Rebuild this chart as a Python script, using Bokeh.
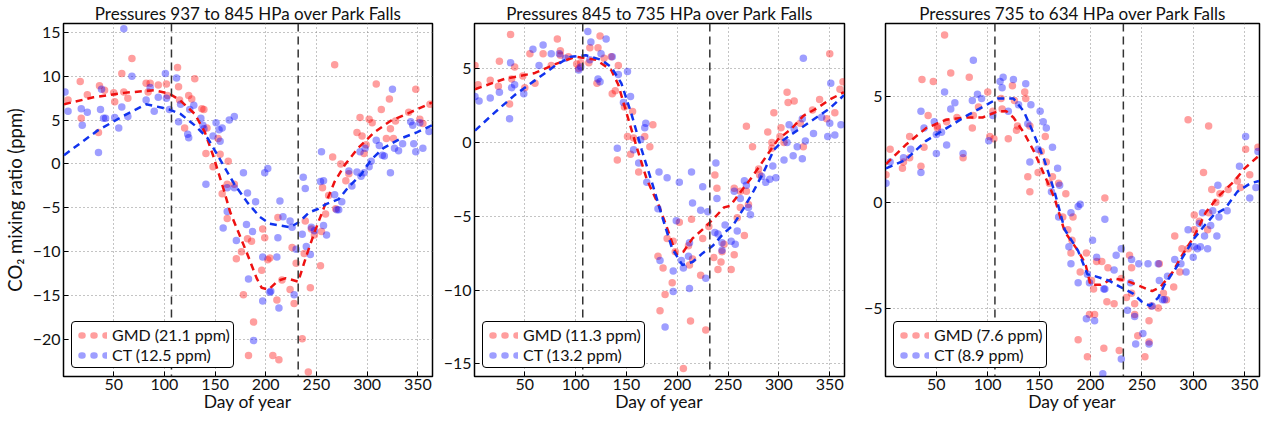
from bokeh.plotting import figure
from bokeh.models import (Range1d, FixedTicker, Span, Legend, LegendItem,
                          CustomJSTickFormatter)
from bokeh.layouts import row
from bokeh.embed import file_html
from bokeh.resources import INLINE

# ---------------- data ----------------
TITLES = ["Pressures 937 to 845 HPa over Park Falls",
          "Pressures 845 to 735 HPa over Park Falls",
          "Pressures 735 to 634 HPa over Park Falls"]
GMD_LABELS = ["GMD (21.1 ppm)", "GMD (11.3 ppm)", "GMD (7.6 ppm)"]
CT_LABELS = ["CT (12.5 ppm)", "CT (13.2 ppm)", "CT (8.9 ppm)"]
X_TICKS = [50, 100, 150, 200, 250, 300, 350]
Y_TICKS = [[-20, -15, -10, -5, 0, 5, 10, 15], [-15, -10, -5, 0, 5], [-5, 0, 5]]
Y_RANGES = [(-24.2, 16.0), (-15.85, 8.05), (-8.23, 8.44)]
X_RANGE = (0.5, 364.5)
VLINES = [107, 232]

# Panel 1 (937-845 hPa)
p1_gmd_day = [5, 17, 18, 24, 36, 41, 35, 51, 50, 58, 60, 64, 68, 82, 86, 84, 94, 102, 103, 113, 114, 115,
              124, 127, 130, 120, 137, 139, 142, 141, 148, 155, 153, 163, 157, 162, 169,
              268, 256, 266, 274, 262, 282, 293, 290, 295, 302, 305, 309, 314, 322, 323, 319, 326, 328,
              341, 348, 352, 355, 362, 297, 299, 279,
              162, 171, 176, 182, 186, 178, 188, 183, 197, 199, 196, 202, 204, 207, 212, 211, 213, 216,
              224, 226, 228, 230, 236, 239, 238, 242, 244, 245, 248, 255, 254, 259, 269]
p1_gmd_val = [7.3, 9.4, 5.2, 7.9, 8.9, 8.4, 3.6, 7.1, 8.1, 10.3, 8.2, 7.5, 12.0, 9.2, 9.2, 8.2, 9.0, 9.1, 7.8, 11.0, 8.8, 7.3,
              7.8, 7.4, 9.7, 4.1, 6.3, 6.2, 4.1, 1.2, -0.3, 1.1, 2.9, 0.3, -3.4, -2.3, -2.3,
              11.3, -2.7, 0.8, 0.0, -3.6, -1.1, 5.3, 3.6, 3.2, 5.1, 4.7, 9.1, 6.2, 7.4, 4.0, 2.9, 2.9, 4.9,
              5.9, 8.5, 5.1, 4.6, 6.8, 1.2, 2.2, -1.9,
              -6.2, -10.8, -10.0, -8.5, -8.8, -14.9, -18.0, -21.8, -7.4, -8.4, -12.1, -10.9, -10.7, -21.8, -6.1, -15.5, -22.3, -13.2,
              -14.3, -9.5, -15.9, -11.3, -19.9, -6.5, -10.2, -23.7, -14.1, -7.4, -8.1, -7.7, -11.6, -5.7, -5.1]
p1_ct_day = [2, 5, 18, 19, 24, 35, 37, 38, 40, 42, 51, 55, 60, 58, 64, 68, 82, 86, 90, 94, 101, 102, 105,
             112, 114, 116, 123, 124, 125, 129, 136, 138, 139, 151, 154, 148, 155, 141, 157, 164, 169,
             178, 199, 202, 162, 169, 182, 190, 214, 255, 237, 239, 254, 257, 268, 275, 282, 285, 290,
             293, 294, 297, 298, 302, 304, 309, 312, 315, 317, 323, 325, 327, 331, 335, 343, 345, 346,
             348, 352, 355, 361,
             158, 162, 171, 181, 187, 183, 188, 197, 197, 205, 204, 211, 212, 213, 217, 224, 226, 228,
             230, 236, 240, 245, 244, 248, 257, 260, 270, 272]
p1_ct_val = [8.2, 6.0, 6.3, 4.4, 5.9, 1.3, 6.2, 8.5, 5.2, 5.2, 5.3, 4.1, 15.4, 6.5, 5.4, 10.0, 7.3, 8.7, 6.0, 7.6, 10.3, 7.5, 6.2,
             9.8, 4.8, 6.8, 3.4, 3.0, 6.2, 6.7, 5.2, 4.4, 4.0, 4.7, 3.9, 3.2, 2.6, -2.3, 4.1, 5.0, 5.4,
             -1.0, -1.0, -0.5, -2.7, -2.7, -3.3, -4.3, -4.2, 1.4, -1.5, -2.8, -2.0, -1.9, -3.5, -4.3, -0.8, -2.5, -0.9,
             1.4, -1.4, -1.0, 1.8, -0.3, 0.3, 2.7, 2.1, 1.0, 0.9, -1.0, 8.5, 1.8, 1.5, 2.3, 4.8, 4.4, 2.3,
             1.4, 4.7, 1.8, 3.7,
             -7.3, -5.4, -8.7, -6.9, -7.7, -13.1, -20.1, -15.6, -10.6, -14.5, -14.6, -10.6, -8.4, -16.4, -6.0, -6.5, -7.2, -14.9,
             -9.7, -8.0, -9.4, -7.2, -10.3, -7.6, -7.0, -8.1, -5.2, -5.2]
p1_gmd_fit_day = [1, 30, 60, 90, 105, 115, 130, 140, 148, 159, 165, 182, 191, 196, 203, 212, 220, 232,
                  240, 248, 258, 268, 278, 291, 307, 323, 343, 364]
p1_gmd_fit_val = [6.8, 7.6, 8.1, 8.4, 8.0, 7.3, 5.7, 3.6, 1.0, -3.1, -5.5, -10.3, -13.0, -14.1, -14.3, -13.3, -13.0, -13.4,
                  -10.5, -7.8, -4.8, -2.0, -0.1, 1.8, 3.6, 4.9, 5.9, 7.0]
p1_ct_fit_day = [1, 34, 60, 82, 98, 105, 116, 130, 143, 156, 169, 182, 188, 194, 204, 214, 224, 233, 243,
                 252, 259, 272, 281, 294, 304, 316, 333, 349, 364]
p1_ct_fit_val = [1.0, 3.8, 5.5, 6.8, 6.4, 6.2, 5.7, 4.4, 2.9, 0.3, -2.3, -4.4, -5.2, -6.0, -6.8, -7.0, -7.2, -6.6, -5.5,
                 -5.1, -4.6, -4.0, -2.7, -1.2, 0.5, 1.8, 2.9, 3.6, 4.4]

# Panel 2 (845-735 hPa)
p2_gmd_day = [1, 4, 16, 24, 25, 36, 37, 40, 35, 48, 50, 55, 60, 68, 76, 82, 85, 85, 93, 101, 103, 105, 113, 114,
              122, 124, 121, 128, 135, 142, 136, 139, 148, 151, 156, 154, 157, 141, 162, 176, 173, 168,
              268, 274, 289, 295, 302, 308, 309, 315, 321, 324, 333, 340, 347, 350, 355, 360, 363, 293, 293,
              301, 305, 237, 239, 256, 262, 268, 280, 281,
              181, 186, 183, 188, 190, 195, 196, 198, 202, 206, 211, 212, 213, 214, 215, 223, 225, 228, 231,
              236, 240, 243, 244, 246, 253, 256, 259, 262, 266, 270]
p2_gmd_val = [5.2, 3.9, 4.2, 3.8, 5.5, 7.3, 4.3, 5.1, 2.6, 4.5, 3.7, 6.0, 4.0, 6.0, 5.2, 7.0, 5.9, 6.2, 5.8, 5.3, 5.0, 5.4, 5.4, 6.4,
              6.4, 7.2, 4.0, 5.7, 5.8, 5.2, 3.3, 3.5, 2.4, 0.4, 2.1, -0.8, 0.3, -1.2, -2.0, 1.2, -0.3, 0.4,
              1.1, -0.3, 0.7, 2.0, 1.0, 3.4, 2.7, 2.8, 1.3, -0.3, 2.2, 2.9, 1.6, 6.0, 2.0, 3.6, 4.1, 0.0, -0.4,
              0.4, 0.0, -2.2, -3.1, -3.1, -3.3, -3.3, -1.8, -2.2,
              -7.7, -8.5, -11.4, -10.3, -6.5, -9.5, -6.7, -7.4, -5.4, -15.3, -7.0, -8.3, -12.1, -5.2, -7.9, -9.0, -6.5, -12.7, -5.7,
              -7.8, -8.6, -8.1, -7.4, -6.9, -8.6, -7.6, -5.1, -4.4, -6.3, -4.2]
p2_ct_day = [1, 5, 16, 25, 35, 36, 37, 40, 49, 58, 64, 68, 76, 84, 90, 103, 105, 112, 114, 115, 122, 124, 125, 130,
             136, 142, 151, 147, 154, 141, 157, 162, 164, 169, 168, 170, 182, 190, 202, 214, 225, 215, 238, 239,
             256, 262, 266, 268, 283, 287, 291, 297, 294, 305, 314, 323, 310, 315, 318, 308, 326, 324, 334,
             342, 348, 350, 355, 351, 361, 323,
             181, 183, 188, 196, 196, 199, 204, 206, 211, 212, 212, 223, 228, 230, 237, 240, 244, 244, 247,
             253, 257, 259, 270, 272]
p2_ct_val = [3.1, 2.8, 3.0, 3.4, 1.6, 5.4, 3.7, 3.9, 3.3, 6.3, 5.2, 6.6, 6.0, 6.0, 5.7, 4.9, 5.1, 7.5, 5.6, 6.8, 4.3, 4.1, 6.0, 7.0,
             5.8, 4.6, 4.8, 2.7, 3.1, -0.4, -0.5, -1.4, 0.2, 1.3, 1.0, -2.7, -2.0, -2.4, -2.7, -2.0, -3.0, -4.1, -1.4, -3.8,
             -3.3, -3.8, -2.6, -2.9, -2.3, -2.7, -2.5, -2.4, -1.6, -1.2, -0.9, -1.1, 1.2, 0.9, -0.3, 0.0, 0.1, 5.7, 0.6,
             1.7, 0.4, 1.3, 0.5, 4.0, 1.2, 1.6,
             -4.5, -8.0, -12.5, -8.7, -10.1, -5.3, -8.0, -8.5, -7.7, -6.8, -9.9, -4.6, -9.2, -4.7, -6.1, -6.2, -7.3, -6.8, -5.6,
             -6.7, -6.9, -6.0, -4.4, -4.9]
p2_gmd_fit_day = [1, 30, 60, 80, 100, 120, 135, 142, 150, 160, 170, 182, 190, 199, 206, 215, 228, 238, 246,
                  252, 265, 273, 286, 299, 312, 324, 337, 350, 364]
p2_gmd_fit_val = [3.6, 4.3, 4.7, 5.3, 5.8, 5.6, 4.9, 3.9, 2.0, -0.3, -2.5, -4.3, -5.8, -7.6, -7.4, -6.5, -5.7, -5.0, -4.4,
                  -4.3, -3.1, -2.4, -1.1, 0.2, 0.9, 1.8, 2.3, 2.9, 3.4]
p2_ct_fit_day = [1, 20, 40, 60, 80, 95, 110, 125, 135, 145, 155, 165, 175, 185, 195, 205, 215, 225, 235, 245,
                 255, 265, 275, 285, 295, 305, 320, 335, 350, 364]
p2_ct_fit_val = [0.8, 2.0, 3.2, 4.2, 5.2, 5.8, 5.9, 5.6, 5.1, 4.0, 1.9, -0.5, -2.7, -5.0, -7.2, -8.3, -8.1, -7.5, -7.0, -6.2,
                 -5.6, -4.5, -3.3, -2.0, -0.5, 0.2, 0.9, 1.6, 2.3, 3.2]

# Panel 3 (735-634 hPa)
p3_gmd_day = [1, 5, 17, 18, 24, 24, 35, 36, 38, 42, 47, 51, 51, 58, 60, 64, 70, 76, 82, 85, 86, 91, 100, 102, 106,
              105, 113, 114, 120, 124, 126, 129, 128, 136, 137, 141, 139, 141, 149, 152, 156, 157, 160, 163,
              169, 176, 214, 295, 310, 315, 318, 322, 326, 334, 343, 346, 351, 355, 363,
              173, 183, 178, 182, 181, 196, 190, 201, 206, 211, 203, 217, 216, 223, 230, 235, 238, 240, 240,
              243, 243, 199, 204, 197, 188, 213, 228, 246, 253, 257, 257, 259, 266, 267, 271, 274, 281, 282,
              287, 289, 301, 301, 306, 314, 315, 295]
p3_gmd_val = [1.3, 2.5, 1.6, 1.9, 3.1, 2.1, 1.7, 5.8, 2.6, 4.1, 5.7, 3.6, 3.5, 7.9, 3.8, 6.1, 4.0, 2.1, 5.9, 3.5, 4.1, 4.5, 5.2, 3.1, 3.0,
              4.3, 4.9, 4.4, 3.0, 5.5, 4.8, 3.6, 3.4, 5.2, 4.9, 3.6, 1.2, 0.5, 1.4, 2.4, 3.1, 1.9, 0.9, 1.2,
              0.9, 0.4, 0.2, 3.9, 1.4, 3.6, 0.6, 0.0, 0.4, 0.6, 1.0, 0.7, 2.5, 1.3, 2.6,
              -0.7, -0.7, -1.3, -1.8, -2.4, -2.4, -3.3, -3.7, -2.8, -2.8, -4.1, -3.1, -4.7, -4.8, -3.6, -4.5, -2.5, -3.1, -4.3,
              -4.8, -5.3, -5.3, -5.3, -7.3, -6.5, -6.9, -7.0, -6.3, -7.3, -5.6, -6.6, -4.9, -5.0, -2.9, -4.3, -4.6, -4.0, -1.6,
              -3.3, -2.2, -1.3, -0.6, -0.9, -1.3, -0.5, -2.2]
p3_ct_day = [1, 5, 18, 25, 35, 35, 38, 48, 50, 58, 60, 50, 55, 64, 68, 76, 85, 86, 90, 94, 101, 105, 112, 114, 115,
             120, 125, 130, 137, 139, 142, 151, 154, 157, 149, 163, 168, 162, 141, 170, 190, 324, 345, 351,
             355, 361, 363,
             169, 181, 188, 179, 181, 188, 197, 199, 202, 206, 214, 213, 214, 223, 225, 230, 230, 236, 240,
             239, 243, 247, 251, 244, 256, 257, 196, 204, 212, 260, 266, 267, 270, 272, 275, 282, 288, 293,
             295, 300, 301, 304, 306, 307, 309, 314, 311, 317, 319, 323, 325, 333]
p3_ct_val = [0.9, 1.9, 2.1, 2.5, 4.3, 1.4, 3.5, 3.8, 3.2, 5.2, 2.7, 2.3, 3.3, 4.4, 4.7, 2.3, 4.8, 6.7, 5.1, 4.9, 2.9, 4.1, 5.7, 5.4, 5.9,
             4.3, 5.8, 4.6, 5.6, 3.7, 4.6, 4.3, 3.8, 3.5, 2.5, 2.6, 1.6, 0.5, 1.9, 0.8, -0.1, 0.8, 1.7, 3.1,
             0.2, 0.7, 2.4,
             -0.7, -0.5, -0.2, -2.1, -2.9, -3.8, -3.4, -3.8, -1.8, -2.6, -0.8, -4.1, -4.1, -3.2, -2.5, -2.2, -7.4, -5.1, -2.7,
             -3.8, -5.4, -2.9, -6.2, -6.7, -2.9, -6.7, -5.5, -5.6, -8.1, -4.9, -2.9, -3.7, -4.6, -4.6, -3.5, -2.7, -2.9, -3.3,
             -1.3, -2.6, -2.1, -2.2, -1.0, -2.1, -0.5, -2.2, -1.6, -1.1, -0.4, -1.6, -0.7, -0.4]
p3_gmd_fit_day = [1, 20, 40, 60, 80, 95, 110, 118, 125, 135, 145, 155, 165, 175, 188, 195, 200, 210, 222, 235,
                  250, 260, 268, 280, 288, 301, 312, 325, 340, 350, 364]
p3_gmd_fit_val = [1.8, 2.7, 3.5, 3.9, 4.0, 4.0, 4.3, 4.3, 4.0, 3.3, 2.4, 1.3, 0.2, -1.4, -2.3, -2.9, -3.9, -3.9, -3.6, -3.7,
                  -4.0, -4.2, -4.0, -3.3, -2.6, -1.6, -0.5, 0.3, 1.0, 1.6, 2.2]
p3_ct_fit_day = [1, 20, 40, 60, 80, 95, 110, 125, 135, 145, 155, 165, 175, 188, 197, 205, 218, 229, 241, 250,
                 258, 266, 272, 282, 291, 301, 311, 320, 331, 343, 356, 364]
p3_ct_fit_val = [1.6, 2.0, 2.9, 3.5, 4.1, 4.5, 4.9, 4.9, 4.3, 3.2, 2.0, 0.5, -1.3, -2.3, -3.4, -3.5, -3.7, -4.0, -4.3, -4.7,
                 -4.9, -4.5, -3.9, -3.2, -2.5, -1.7, -1.1, -0.6, -0.3, 0.5, 0.9, 1.0]

PANELS = [
    (p1_gmd_day, p1_gmd_val, p1_ct_day, p1_ct_val, p1_gmd_fit_day, p1_gmd_fit_val, p1_ct_fit_day, p1_ct_fit_val),
    (p2_gmd_day, p2_gmd_val, p2_ct_day, p2_ct_val, p2_gmd_fit_day, p2_gmd_fit_val, p2_ct_fit_day, p2_ct_fit_val),
    (p3_gmd_day, p3_gmd_val, p3_ct_day, p3_ct_val, p3_gmd_fit_day, p3_gmd_fit_val, p3_ct_fit_day, p3_ct_fit_val),
]

# ---------------- styling ----------------
FONT = "Lato"
RED = "#ff0000"
BLUE = "#0000ff"
LINE_RED = "#ee1111"
LINE_BLUE = "#1133ee"
PT_ALPHA = 0.38

# (width, min_border_left, min_border_right)
GEOM = [(440, 58, 8), (415, 30, 11), (407, 30, 3)]

minus_fmt = CustomJSTickFormatter(code="return tick < 0 ? '\\u2212' + Math.abs(tick) : String(tick);")

figs = []
for i, (gd, gv, cd, cv, gfd, gfv, cfd, cfv) in enumerate(PANELS):
    w, bl, br = GEOM[i]
    p = figure(width=w, height=414, x_range=Range1d(*X_RANGE), y_range=Range1d(*Y_RANGES[i]),
               output_backend="svg", toolbar_location=None,
               min_border_left=bl, min_border_right=br, min_border_top=21, min_border_bottom=0)
    p.title.text = TITLES[i]
    p.title.align = "center"
    p.title.text_font = FONT
    p.title.text_font_size = "17px"
    p.title.text_font_style = "normal"
    p.title.text_color = "#111111"
    p.title.standoff = 0

    p.outline_line_color = "black"
    p.outline_line_width = 1.5
    p.outline_line_alpha = 1

    p.xaxis.ticker = FixedTicker(ticks=X_TICKS)
    p.yaxis.ticker = FixedTicker(ticks=Y_TICKS[i])
    p.yaxis.formatter = minus_fmt
    for ax in (p.xaxis, p.yaxis):
        ax.axis_line_color = None
        ax.major_tick_in = 5
        ax.major_tick_out = 0
        ax.major_tick_line_color = "black"
        ax.major_tick_line_width = 1
        ax.minor_tick_line_color = None
        ax.major_label_text_font = FONT
        ax.major_label_text_font_size = "16px"
        ax.major_label_text_color = "#111111"
        ax.major_label_standoff = 3
        ax.axis_label_text_font = FONT
        ax.axis_label_text_font_size = "17.5px"
        ax.axis_label_text_font_style = "normal"
        ax.axis_label_text_color = "#111111"
    p.xaxis.major_label_standoff = 2
    p.xaxis.axis_label = "Day of year"
    p.xaxis.axis_label_standoff = -2
    if i == 0:
        p.yaxis.axis_label = "CO\u2082 mixing ratio (ppm)"
        p.yaxis.axis_label_text_font_size = "18.5px"
        p.yaxis.axis_label_standoff = 4

    for g in (p.xgrid, p.ygrid):
        g.grid_line_color = "#888888"
        g.grid_line_dash = "1 3"
        g.grid_line_width = 1
        g.grid_line_alpha = 1

    for loc in VLINES:
        p.add_layout(Span(location=loc, dimension="height", line_color="#333333",
                          line_width=1.5, line_dash="8 5"))

    p.scatter(gd, gv, size=7.5, fill_color=RED, fill_alpha=PT_ALPHA, line_color=None)
    p.scatter(cd, cv, size=7.5, fill_color=BLUE, fill_alpha=PT_ALPHA, line_color=None)
    p.line(gfd, gfv, line_color=LINE_RED, line_width=2.5, line_dash="7 5")
    p.line(cfd, cfv, line_color=LINE_BLUE, line_width=2.5, line_dash="7 5")

    # hidden legend proxies (three dots, like the original scatter legend)
    lg = p.line(gd, gv, line_color=RED, line_alpha=PT_ALPHA, line_width=6.5,
                line_dash="1 11", line_dash_offset=6, line_cap="round", visible=False)
    lc = p.line(cd, cv, line_color=BLUE, line_alpha=PT_ALPHA, line_width=6.5,
                line_dash="1 11", line_dash_offset=6, line_cap="round", visible=False)
    legend = Legend(items=[LegendItem(label=GMD_LABELS[i], renderers=[lg]),
                           LegendItem(label=CT_LABELS[i], renderers=[lc])],
                    location="bottom_left")
    legend.click_policy = "none"
    legend.inactive_fill_alpha = 0
    legend.border_line_color = "black"
    legend.border_line_width = 1.5
    legend.border_line_alpha = 1
    legend.background_fill_alpha = 1
    legend.label_text_font = FONT
    legend.label_text_font_size = "16px"
    legend.label_text_color = "#111111"
    legend.glyph_width = 32
    legend.glyph_height = 18
    legend.label_height = 18
    legend.label_standoff = 5
    legend.spacing = 1
    legend.padding = 3
    legend.margin = 8
    if "border_radius" in Legend.properties():
        legend.border_radius = 4
    p.add_layout(legend)
    figs.append(p)

layout = row(*figs)
open("out.html", "w").write(file_html(layout, INLINE))
